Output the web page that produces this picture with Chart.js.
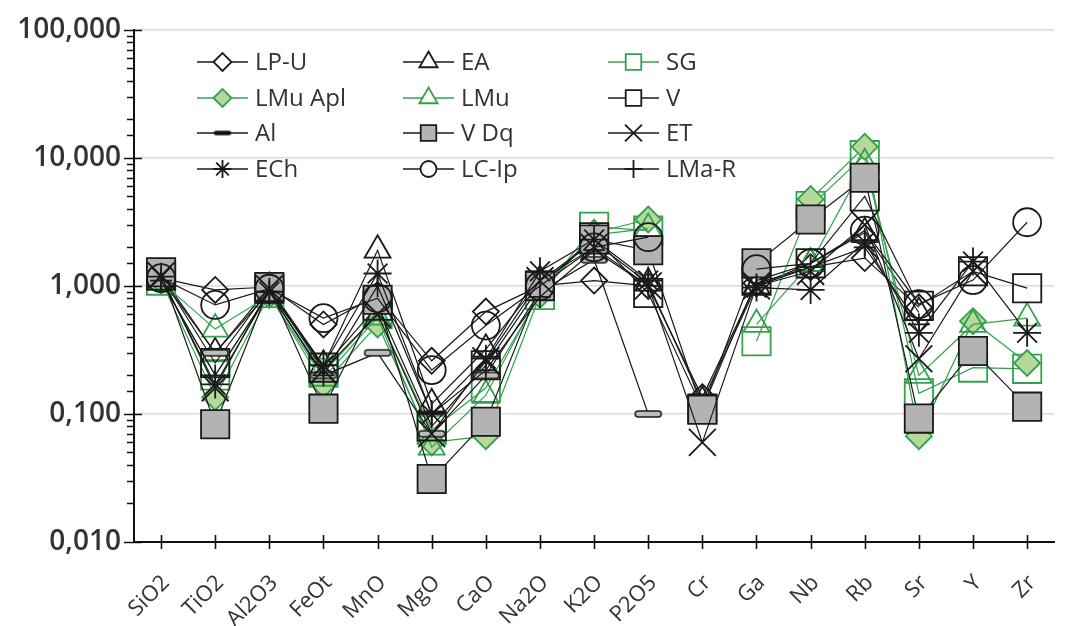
<!DOCTYPE html>
<html>
<head>
<meta charset="utf-8">
<script src="https://cdn.jsdelivr.net/npm/chart.js@4/dist/chart.umd.min.js"></script>
<style>
  html, body { margin: 0; padding: 0; background: #ffffff; }
  #wrap { width: 1076px; height: 626px; }
</style>
</head>
<body>
<div id="wrap"><canvas id="chart" width="1076" height="626"></canvas></div>
<script>
// Elements along the x axis
const categories = ['SiO2', 'TiO2', 'Al2O3', 'FeOt', 'MnO', 'MgO', 'CaO', 'Na2O', 'K2O', 'P2O5', 'Cr', 'Ga', 'Nb', 'Rb', 'Sr', 'Y', 'Zr'];

// Logarithmic y axis labels (decimal comma)
const yTickValues = [0.01, 0.1, 1, 10, 100];
const yTickLabels = ['0,010', '0,100', '1,000', '10,000', '100,000'];

// Normalised values per group (null = not analysed)
const lpU    = [1.15, 0.93, 0.98, 0.50, 0.85, 0.26, 0.63, 1.00, 1.10, 1.00, 0.135, 1.05, 1.40, 1.65, 0.68, null, null];
const ea     = [1.22, 0.30, 0.97, 0.24, 1.90, 0.12, 0.32, 1.10, 2.20, 1.05, 0.125, 1.00, 1.50, 2.60, 0.62, null, null];
const sg     = [1.10, 0.20, 0.88, 0.21, 0.60, 0.075, 0.16, 0.85, 2.90, 2.70, null, 0.37, 4.20, 10.5, 0.145, 0.23, 0.225];
const lmuApl = [1.10, 0.135, 0.85, 0.17, 0.50, 0.060, 0.067, 0.85, 2.60, 3.30, null, null, 4.76, 12.2, 0.067, 0.53, 0.25];
const lmu    = [1.08, 0.46, 0.84, 0.19, 0.57, 0.055, 0.14, 0.88, 2.50, 2.80, null, 0.50, 1.50, 9.0, 0.20, 0.50, 0.56];
const v      = [1.20, 0.25, 0.95, 0.23, 0.70, 0.08, 0.24, 1.00, 2.40, 0.88, 0.11, 1.10, 1.50, 5.0, 0.70, 1.30, 0.96];
const al     = [1.15, 0.30, 0.90, 0.20, 0.30, 0.07, 0.20, 0.90, 1.60, 0.10, null, null, null, null, null, null, null];
const vDq    = [1.28, 0.083, 0.98, 0.11, 0.78, 0.031, 0.087, 1.00, 2.30, 1.90, 0.108, 1.50, 3.30, 7.0, 0.092, 0.31, 0.114];
const et     = [1.20, 0.16, 0.95, 0.22, 0.60, 0.07, 0.26, 1.10, 2.00, 1.00, 0.06, 1.00, 1.30, 3.00, 0.27, 1.30, null];
const ech    = [1.18, 0.17, 0.90, 0.24, 1.25, 0.10, 0.27, 1.30, 2.30, 1.10, null, 0.97, 0.93, 2.20, 0.43, 1.55, 0.43];
const lcIp   = [1.15, 0.71, 0.95, 0.56, 0.80, 0.22, 0.49, 1.00, 2.00, 2.40, null, 1.35, 1.50, 2.70, 0.72, 1.11, 3.14];
const lmaR   = [1.10, 0.20, 0.90, 0.20, 1.00, 0.10, 0.22, 0.82, 1.90, 1.00, null, 1.00, 1.40, 2.00, 0.50, null, null];

const seriesNames = ['LP-U', 'EA', 'SG', 'LMu Apl', 'LMu', 'V', 'Al', 'V Dq', 'ET', 'ECh', 'LC-Ip', 'LMa-R'];
const seriesValues = [lpU, ea, sg, lmuApl, lmu, v, al, vDq, et, ech, lcIp, lmaR];

// Flat rounded bar used as the "Al" marker
function makeBar(w, h, fill, stroke) {
  const c = document.createElement('canvas');
  c.width = w + 4; c.height = h + 4;
  const g = c.getContext('2d');
  g.fillStyle = fill; g.strokeStyle = stroke; g.lineWidth = 1.5;
  g.beginPath();
  g.roundRect(2, 2, w, h, h / 2);
  g.fill(); g.stroke();
  return c;
}
const barMarker = makeBar(26, 6, '#bdbdbd', '#1a1a1a');
const barMarkerSmall = makeBar(16, 3, '#111111', '#111111');

const BLACK = '#1a1a1a';
const GREEN = '#34a14e';
const NONE = 'rgba(0,0,0,0)';

// Marker look of each series: [line colour, point style, radius, fill, legend radius]
const seriesLook = [
  [BLACK, 'rectRot',  13, NONE,      9],
  [BLACK, 'triangle', 15, NONE,     10.5],
  [GREEN, 'rect',     20, NONE,     11],
  [GREEN, 'rectRot',  13, '#b4d99b', 9],
  [GREEN, 'triangle', 15, NONE,     10.5],
  [BLACK, 'rect',     20, NONE,     11],
  [BLACK, barMarker,  10, NONE,     8],
  [BLACK, 'rect',     20, '#b3b3b3', 11],
  [BLACK, 'crossRot', 19, NONE,     12],
  [BLACK, 'star',     14, NONE,     9],
  [BLACK, 'circle',   14, NONE,     8],
  [BLACK, 'cross',    11, NONE,     9]
];

const datasets = seriesNames.map((name, i) => {
  const [color, style, radius, fill] = seriesLook[i];
  return {
    label: name,
    data: seriesValues[i],
    borderColor: color,
    borderWidth: 1.2,
    backgroundColor: fill,
    pointStyle: style,
    pointRadius: radius,
    pointHoverRadius: radius,
    pointBorderColor: color,
    pointBackgroundColor: fill,
    pointBorderWidth: 1.8,
    tension: 0,
    spanGaps: false,
    fill: false,
    order: seriesNames.length - 1 - i
  };
});

function isDecade(val) {
  const l = Math.log10(val);
  return Math.abs(l - Math.round(l)) < 1e-6;
}
function decadeLabel(val) {
  const idx = yTickValues.findIndex(t => Math.abs(Math.log10(t) - Math.log10(val)) < 1e-6);
  return idx >= 0 ? yTickLabels[idx] : '';
}

// Axis tick marks: crossing marks at decades and categories, short outer marks between decades
const axisTicks = {
  id: 'axisTicks',
  afterDraw(chart) {
    const ctx = chart.ctx;
    const xs = chart.scales.x, ys = chart.scales.y;
    const left = chart.chartArea.left, bottom = chart.chartArea.bottom;
    ctx.save();
    ctx.strokeStyle = '#111111';
    ctx.lineWidth = 1.6;
    ctx.beginPath();
    ys.ticks.forEach(t => {
      const y = Math.round(ys.getPixelForValue(t.value)) + 0.5;
      if (isDecade(t.value)) { ctx.moveTo(left - 10, y); ctx.lineTo(left + 8, y); }
      else { ctx.moveTo(left - 7, y); ctx.lineTo(left, y); }
    });
    categories.forEach((c, i) => {
      const x = Math.round(xs.getPixelForValue(i)) + 0.5;
      ctx.moveTo(x, bottom - 7); ctx.lineTo(x, bottom + 7);
    });
    ctx.stroke();
    ctx.restore();
  }
};

// Three-column legend inside the plot area
const gridLegend = {
  id: 'gridLegend',
  afterDraw(chart) {
    const ctx = chart.ctx;
    const colX = [197, 403, 608];
    const rowY = [62, 98, 133, 169];
    const draw = Chart.helpers && Chart.helpers.drawPoint;
    chart.data.datasets.forEach((ds, i) => {
      const x0 = colX[i % 3];
      const y = rowY[Math.floor(i / 3)];
      const look = seriesLook[i];
      ctx.save();
      ctx.strokeStyle = ds.borderColor;
      ctx.lineWidth = 1.4;
      ctx.beginPath();
      ctx.moveTo(x0, y); ctx.lineTo(x0 + 51, y);
      ctx.stroke();
      if (draw) {
        ctx.fillStyle = ds.pointBackgroundColor === NONE ? '#ffffff' : ds.pointBackgroundColor;
        ctx.strokeStyle = ds.pointBorderColor;
        ctx.lineWidth = 1.8;
        const style = look[1] === barMarker ? barMarkerSmall : look[1];
        draw(ctx, { pointStyle: style, rotation: 0, radius: look[4], borderWidth: 1.8 }, x0 + 25.5, y);
      }
      ctx.fillStyle = '#333333';
      ctx.font = '24px "Open Sans", sans-serif';
      ctx.textBaseline = 'middle';
      ctx.textAlign = 'left';
      ctx.fillText(ds.label, x0 + 58, y + 1);
      ctx.restore();
    });
  }
};

new Chart(document.getElementById('chart'), {
  type: 'line',
  data: { labels: categories, datasets: datasets },
  options: {
    responsive: false,
    devicePixelRatio: 1,
    animation: false,
    layout: { padding: { top: 24, right: 2, bottom: 0, left: 0 } },
    plugins: {
      legend: { display: false },
      tooltip: { enabled: false }
    },
    scales: {
      x: {
        type: 'category',
        offset: true,
        grid: { display: false, drawTicks: false },
        border: { display: true, color: '#111111', width: 2 },
        ticks: {
          color: '#333333',
          font: { family: '"Open Sans", sans-serif', size: 22 },
          minRotation: 45,
          maxRotation: 45,
          autoSkip: false,
          padding: 28,
          labelOffset: 5
        },
        afterFit(scale) { scale.height = 84; }
      },
      y: {
        type: 'logarithmic',
        min: 0.01,
        max: 100,
        grid: {
          drawTicks: false,
          color: (c) => (c.tick && isDecade(c.tick.value)) ? '#d9d9d9' : 'rgba(0,0,0,0)',
          lineWidth: 1.5
        },
        border: { display: true, color: '#111111', width: 2 },
        ticks: {
          autoSkip: false,
          color: '#333333',
          font: { family: '"Open Sans", sans-serif', size: 28, weight: '600' },
          padding: 13,
          callback: (val) => decadeLabel(val)
        },
        afterFit(scale) { scale.width = 134; }
      }
    }
  },
  plugins: [axisTicks, gridLegend]
});
</script>
</body>
</html>
